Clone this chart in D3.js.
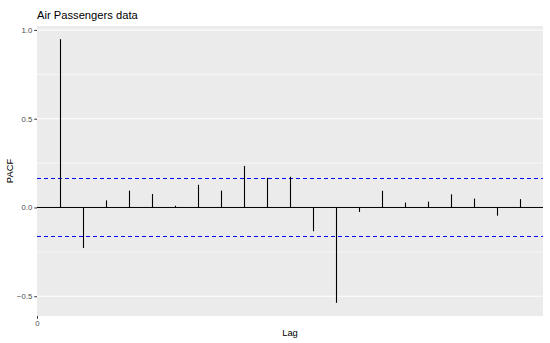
<!DOCTYPE html>
<html>
<head>
<meta charset="utf-8">
<script src="https://cdn.jsdelivr.net/npm/d3@7"></script>
<style>
  html, body { margin: 0; padding: 0; background: #fff; }
  svg { display: block; font-family: "Liberation Sans", Arial, sans-serif; }
</style>
</head>
<body>
<svg id="chart" width="550" height="343"></svg>
<script>
// Data
const lags = [1,2,3,4,5,6,7,8,9,10,11,12,13,14,15,16,17,18,19,20,21];
const pacf = [0.948,-0.228,0.040,0.095,0.076,0.010,0.128,0.095,0.234,0.167,0.173,-0.134,-0.537,-0.025,0.094,0.028,0.033,0.074,0.050,-0.046,0.047];
const ciLimit = 0.1633;
const yTicks = [-0.5, 0, 0.5, 1.0];
const yMinor = [-0.25, 0.25, 0.75];
const xTicks = [0];
const xDomain = [0, 22];
const title = "Air Passengers data";
const xLabel = "Lag";
const yLabel = "PACF";

const svg = d3.select("#chart");
const W = 550, H = 343;
const m = {left: 37, right: 7, top: 26, bottom: 27};
const pw = W - m.left - m.right, ph = H - m.top - m.bottom;

const yMin = d3.min(pacf), yMax = d3.max(pacf);
const pad = (yMax - yMin) * 0.05;
const x = d3.scaleLinear().domain(xDomain).range([m.left, m.left + pw]);
const y = d3.scaleLinear().domain([yMin - pad, yMax + pad]).range([m.top + ph, m.top]);

// panel
svg.append("rect").attr("x", m.left).attr("y", m.top).attr("width", pw).attr("height", ph).attr("fill", "#EBEBEB");

// grid
svg.append("g").selectAll("line").data(yMinor).join("line")
  .attr("x1", m.left).attr("x2", m.left + pw)
  .attr("y1", d => y(d)).attr("y2", d => y(d))
  .attr("stroke", "#fff").attr("stroke-width", 0.6);
svg.append("g").selectAll("line").data(yTicks).join("line")
  .attr("x1", m.left).attr("x2", m.left + pw)
  .attr("y1", d => y(d)).attr("y2", d => y(d))
  .attr("stroke", "#fff").attr("stroke-width", 1.1);

// zero line
svg.append("line").attr("x1", m.left).attr("x2", m.left + pw)
  .attr("y1", y(0)).attr("y2", y(0)).attr("stroke", "#000").attr("stroke-width", 1);

// CI lines
svg.append("g").selectAll("line").data([ciLimit, -ciLimit]).join("line")
  .attr("x1", m.left).attr("x2", m.left + pw)
  .attr("y1", d => y(d)).attr("y2", d => y(d))
  .attr("stroke", "#0000FF").attr("stroke-width", 1).attr("stroke-dasharray", "4,3");

// spikes
svg.append("g").selectAll("line").data(lags).join("line")
  .attr("x1", d => x(d) + 0.5).attr("x2", d => x(d) + 0.5)
  .attr("y1", y(0)).attr("y2", (d, i) => y(pacf[i]))
  .attr("stroke", "#000").attr("stroke-width", 1.1);

// y axis
const yAxis = d3.axisLeft(y).tickValues(yTicks).tickFormat(d3.format(".1f")).tickSize(2.75).tickPadding(2);
const ga = svg.append("g").attr("transform", `translate(${m.left},0)`).call(yAxis);
ga.select(".domain").remove();
ga.selectAll("line").attr("stroke", "#333333");
ga.selectAll("text").attr("fill", "#4D4D4D").style("font-size", "7.8px")
  .text(d => d < 0 ? "\u2212" + d3.format(".1f")(-d) : d3.format(".1f")(d));

// x axis
const xAxis = d3.axisBottom(x).tickValues(xTicks).tickFormat(d3.format("d")).tickSize(2.75).tickPadding(2);
const gx = svg.append("g").attr("transform", `translate(0,${m.top + ph})`).call(xAxis);
gx.select(".domain").remove();
gx.selectAll("line").attr("stroke", "#333333");
gx.selectAll("text").attr("fill", "#4D4D4D").style("font-size", "7.8px");

// labels
svg.append("text").attr("x", m.left).attr("y", 19).text(title)
  .attr("fill", "#000").style("font-size", "11.2px");
svg.append("text").attr("x", m.left + pw / 2).attr("y", 336).attr("text-anchor", "middle")
  .text(xLabel).attr("fill", "#000").style("font-size", "9.4px");
svg.append("text").attr("transform", `translate(13,${m.top + ph / 2}) rotate(-90)`)
  .attr("text-anchor", "middle").text(yLabel).attr("fill", "#000").style("font-size", "9.4px");
</script>
</body>
</html>
